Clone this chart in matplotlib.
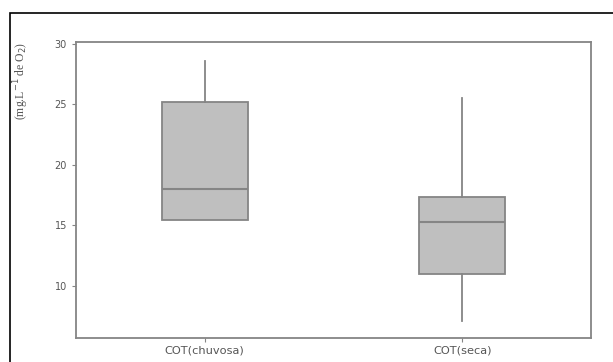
import matplotlib
matplotlib.use('Agg')
import matplotlib.pyplot as plt
from matplotlib.patches import Rectangle

categorias = ['COT(chuvosa)', 'COT(seca)']
minimos = [15.45, 7.15]
q1 = [15.45, 11.0]
medianas = [18.0, 15.3]
q3 = [25.2, 17.35]
maximos = [28.55, 25.5]

cinza = '#858585'

fig = plt.figure(figsize=(6.13, 3.62), dpi=100)
ax = fig.add_axes([0.124, 0.066, 0.840, 0.817])

stats = []
for i, nome in enumerate(categorias):
    stats.append({'label': nome, 'whislo': minimos[i], 'q1': q1[i],
                  'med': medianas[i], 'q3': q3[i], 'whishi': maximos[i],
                  'fliers': []})

ax.bxp(stats, positions=[1, 2], widths=0.335, patch_artist=True,
       showcaps=False, showfliers=False,
       boxprops=dict(facecolor='#bfbfbf', edgecolor=cinza, linewidth=1.3),
       medianprops=dict(color=cinza, linewidth=1.5),
       whiskerprops=dict(color=cinza, linewidth=1.3))

ax.set_xlim(0.5, 2.5)
ax.set_ylim(5.7, 30.1)
ax.set_yticks([10, 15, 20, 25, 30])

for s in ax.spines.values():
    s.set_color(cinza)
    s.set_linewidth(1.3)

ax.tick_params(axis='both', colors=cinza, labelcolor='#555555',
               length=3, width=0.8)
ax.tick_params(axis='y', labelsize=7)
ax.tick_params(axis='x', labelsize=8.2, pad=2)
ax.set_ylabel(r'(mg.L$^{-1}$ de O$_2$)', fontsize=8.5, family='Liberation Serif',
              color='#555555')
ax.yaxis.set_label_coords(-0.088, 0.87)

# moldura preta em volta da figura
moldura = Rectangle((9.5 / 613, -0.1), 1.2, 1.1 - 13.5 / 362,
                    transform=fig.transFigure, fill=False,
                    edgecolor='black', linewidth=1.2, clip_on=False)
fig.patches.append(moldura)

fig.savefig('out.png', dpi=100)
